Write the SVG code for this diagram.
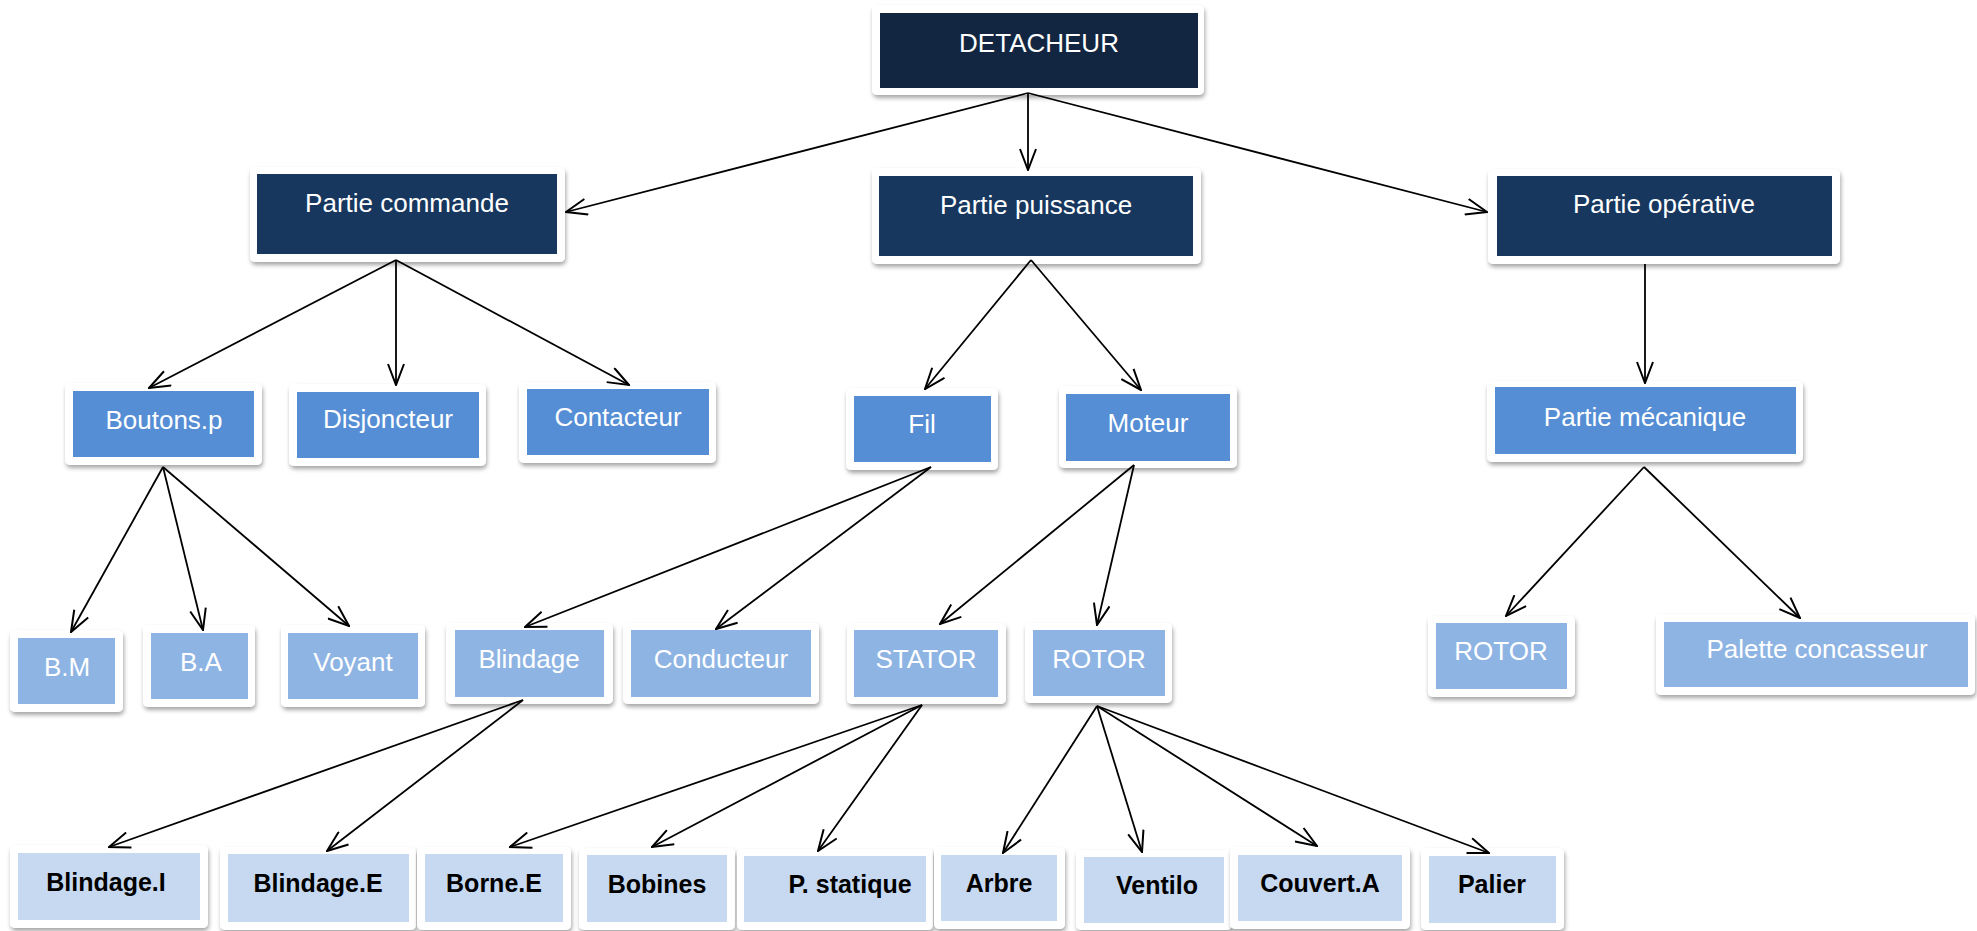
<svg xmlns="http://www.w3.org/2000/svg" width="1977" height="931" viewBox="0 0 1977 931">
  <defs>
    <filter id="shadow" x="-10%" y="-10%" width="120%" height="130%">
      <feDropShadow dx="1" dy="3" stdDeviation="2" flood-color="#000" flood-opacity="0.35"/>
    </filter>
    <marker id="arrow" viewBox="0 0 24 18" refX="23" refY="9" markerWidth="24" markerHeight="18" markerUnits="userSpaceOnUse" orient="auto">
      <path d="M2,1 L23,9 L2,17" fill="none" stroke="#000" stroke-width="2"/>
    </marker>
  </defs>
  <style>
    .frame { fill: #fff; filter: url(#shadow); }
    .l1 { fill: #132641; }
    .l2 { fill: #17375e; }
    .l3 { fill: #558ed5; }
    .l4 { fill: #8eb4e3; }
    .l5 { fill: #c6d9f1; }
    .t { font-family: "Liberation Sans", Arial, sans-serif; font-size: 26px; fill: #fff; text-anchor: middle; }
    .tb { font-family: "Liberation Sans", Arial, sans-serif; font-size: 25px; font-weight: bold; fill: #000; text-anchor: middle; }
    .conn line { stroke: #000; stroke-width: 1.8; marker-end: url(#arrow); }
  </style>
  <rect width="1977" height="931" fill="#fff"/>

  <!-- level 1 -->
  <g id="detacheur">
    <rect class="frame" x="872" y="5" width="332" height="90" rx="5"/>
    <rect class="l1" x="880" y="13" width="318" height="75"/>
    <text class="t" x="1039" y="52">DETACHEUR</text>
  </g>

  <!-- level 2 -->
  <g id="partie-commande">
    <rect class="frame" x="250" y="167" width="315" height="95" rx="5"/>
    <rect class="l2" x="257" y="174" width="300" height="80"/>
    <text class="t" x="407" y="212">Partie commande</text>
  </g>
  <g id="partie-puissance">
    <rect class="frame" x="872" y="168" width="329" height="96" rx="5"/>
    <rect class="l2" x="879" y="176" width="314" height="80"/>
    <text class="t" x="1036" y="214">Partie puissance</text>
  </g>
  <g id="partie-operative">
    <rect class="frame" x="1488" y="169" width="352" height="95" rx="5"/>
    <rect class="l2" x="1497" y="176" width="335" height="80"/>
    <text class="t" x="1664" y="213">Partie opérative</text>
  </g>

  <!-- level 3 -->
  <g id="boutons-p">
    <rect class="frame" x="65" y="383" width="197" height="82" rx="5"/>
    <rect class="l3" x="73" y="391" width="181" height="66"/>
    <text class="t" x="164" y="429">Boutons.p</text>
  </g>
  <g id="disjoncteur">
    <rect class="frame" x="289" y="384" width="197" height="82" rx="5"/>
    <rect class="l3" x="297" y="392" width="182" height="66"/>
    <text class="t" x="388" y="428">Disjoncteur</text>
  </g>
  <g id="contacteur">
    <rect class="frame" x="519" y="382" width="197" height="81" rx="5"/>
    <rect class="l3" x="527" y="389" width="182" height="66"/>
    <text class="t" x="618" y="426">Contacteur</text>
  </g>
  <g id="fil">
    <rect class="frame" x="846" y="388" width="152" height="82" rx="5"/>
    <rect class="l3" x="854" y="396" width="137" height="66"/>
    <text class="t" x="922" y="433">Fil</text>
  </g>
  <g id="moteur">
    <rect class="frame" x="1059" y="386" width="178" height="82" rx="5"/>
    <rect class="l3" x="1066" y="394" width="164" height="67"/>
    <text class="t" x="1148" y="432">Moteur</text>
  </g>
  <g id="partie-mecanique">
    <rect class="frame" x="1487" y="381" width="316" height="81" rx="5"/>
    <rect class="l3" x="1495" y="387" width="301" height="67"/>
    <text class="t" x="1645" y="426">Partie mécanique</text>
  </g>

  <!-- level 4 -->
  <g id="b-m">
    <rect class="frame" x="10" y="630" width="113" height="82" rx="5"/>
    <rect class="l4" x="18" y="638" width="97" height="66"/>
    <text class="t" x="67" y="676">B.M</text>
  </g>
  <g id="b-a">
    <rect class="frame" x="143" y="625" width="112" height="82" rx="5"/>
    <rect class="l4" x="151" y="633" width="97" height="66"/>
    <text class="t" x="201" y="671">B.A</text>
  </g>
  <g id="voyant">
    <rect class="frame" x="281" y="625" width="144" height="82" rx="5"/>
    <rect class="l4" x="288" y="633" width="130" height="66"/>
    <text class="t" x="353" y="671">Voyant</text>
  </g>
  <g id="blindage">
    <rect class="frame" x="446" y="623" width="167" height="81" rx="5"/>
    <rect class="l4" x="455" y="630" width="149" height="67"/>
    <text class="t" x="529" y="668">Blindage</text>
  </g>
  <g id="conducteur">
    <rect class="frame" x="623" y="623" width="196" height="81" rx="5"/>
    <rect class="l4" x="631" y="630" width="180" height="67"/>
    <text class="t" x="721" y="668">Conducteur</text>
  </g>
  <g id="stator">
    <rect class="frame" x="847" y="623" width="159" height="81" rx="5"/>
    <rect class="l4" x="854" y="630" width="144" height="67"/>
    <text class="t" x="926" y="668">STATOR</text>
  </g>
  <g id="rotor-moteur">
    <rect class="frame" x="1025" y="623" width="147" height="80" rx="5"/>
    <rect class="l4" x="1033" y="630" width="132" height="66"/>
    <text class="t" x="1099" y="668">ROTOR</text>
  </g>
  <g id="rotor-mecanique">
    <rect class="frame" x="1428" y="616" width="147" height="81" rx="5"/>
    <rect class="l4" x="1436" y="623" width="131" height="66"/>
    <text class="t" x="1501" y="660">ROTOR</text>
  </g>
  <g id="palette-concasseur">
    <rect class="frame" x="1656" y="614" width="319" height="81" rx="5"/>
    <rect class="l4" x="1664" y="622" width="304" height="65"/>
    <text class="t" x="1817" y="658">Palette concasseur</text>
  </g>

  <!-- level 5 -->
  <g id="blindage-i">
    <rect class="frame" x="10" y="845" width="198" height="83" rx="5"/>
    <rect class="l5" x="18" y="853" width="182" height="67"/>
    <text class="tb" x="106" y="891">Blindage.I</text>
  </g>
  <g id="blindage-e">
    <rect class="frame" x="220" y="847" width="196" height="83" rx="5"/>
    <rect class="l5" x="228" y="854" width="181" height="68"/>
    <text class="tb" x="318" y="892">Blindage.E</text>
  </g>
  <g id="borne-e">
    <rect class="frame" x="417" y="847" width="154" height="83" rx="5"/>
    <rect class="l5" x="425" y="854" width="138" height="68"/>
    <text class="tb" x="494" y="892">Borne.E</text>
  </g>
  <g id="bobines">
    <rect class="frame" x="579" y="848" width="156" height="82" rx="5"/>
    <rect class="l5" x="587" y="855" width="140" height="67"/>
    <text class="tb" x="657" y="893">Bobines</text>
  </g>
  <g id="p-statique">
    <rect class="frame" x="737" y="849" width="196" height="81" rx="5"/>
    <rect class="l5" x="744" y="856" width="182" height="66"/>
    <text class="tb" x="850" y="893">P. statique</text>
  </g>
  <g id="arbre">
    <rect class="frame" x="934" y="847" width="131" height="82" rx="5"/>
    <rect class="l5" x="941" y="855" width="116" height="66"/>
    <text class="tb" x="999" y="892">Arbre</text>
  </g>
  <g id="ventilo">
    <rect class="frame" x="1076" y="850" width="156" height="80" rx="5"/>
    <rect class="l5" x="1084" y="857" width="140" height="66"/>
    <text class="tb" x="1157" y="894">Ventilo</text>
  </g>
  <g id="couvert-a">
    <rect class="frame" x="1230" y="847" width="180" height="82" rx="5"/>
    <rect class="l5" x="1238" y="855" width="164" height="66"/>
    <text class="tb" x="1320" y="892">Couvert.A</text>
  </g>
  <g id="palier">
    <rect class="frame" x="1421" y="848" width="143" height="82" rx="5"/>
    <rect class="l5" x="1429" y="856" width="127" height="67"/>
    <text class="tb" x="1492" y="893">Palier</text>
  </g>

  <!-- connectors, drawn over the node frames -->
  <g id="connectors" class="conn">
    <line x1="1028" y1="93" x2="566" y2="212"/>
    <line x1="1028" y1="93" x2="1028" y2="170"/>
    <line x1="1028" y1="93" x2="1487" y2="212"/>

    <line x1="396" y1="260" x2="149" y2="388"/>
    <line x1="396" y1="260" x2="396" y2="385"/>
    <line x1="396" y1="260" x2="629" y2="385"/>

    <line x1="1031" y1="260" x2="925" y2="389"/>
    <line x1="1031" y1="260" x2="1141" y2="390"/>

    <line x1="1645" y1="264" x2="1645" y2="383"/>

    <line x1="163" y1="467" x2="71" y2="632"/>
    <line x1="163" y1="467" x2="203" y2="630"/>
    <line x1="163" y1="467" x2="349" y2="626"/>

    <line x1="931" y1="467" x2="525" y2="627"/>
    <line x1="931" y1="467" x2="716" y2="629"/>

    <line x1="1134" y1="465" x2="940" y2="624"/>
    <line x1="1134" y1="465" x2="1097" y2="625"/>

    <line x1="1644" y1="467" x2="1506" y2="616"/>
    <line x1="1644" y1="467" x2="1800" y2="618"/>

    <line x1="523" y1="700" x2="109" y2="847"/>
    <line x1="523" y1="700" x2="327" y2="851"/>

    <line x1="922" y1="705" x2="510" y2="847"/>
    <line x1="922" y1="705" x2="652" y2="847"/>
    <line x1="922" y1="705" x2="818" y2="851"/>

    <line x1="1097" y1="706" x2="1003" y2="853"/>
    <line x1="1097" y1="706" x2="1142" y2="852"/>
    <line x1="1097" y1="706" x2="1317" y2="846"/>
    <line x1="1097" y1="706" x2="1489" y2="853"/>
  </g>
</svg>
